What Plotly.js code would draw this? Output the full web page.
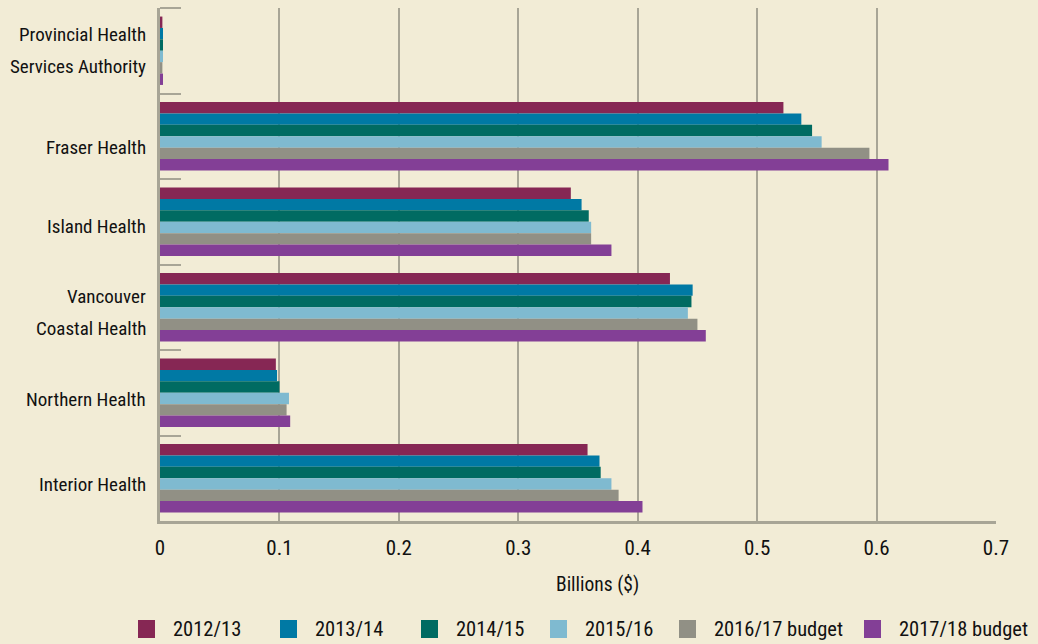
<!DOCTYPE html>
<html>
<head>
<meta charset="utf-8">
<script src="https://cdn.plot.ly/plotly-3.0.1.min.js"></script>
<style>
html,body{margin:0;padding:0;background:#F2ECD6;}
#chart{width:1038px;height:644px;}
</style>
</head>
<body>
<div id="chart"></div>
<script>
const categories = [
  "Provincial Health Services Authority",
  "Fraser Health",
  "Island Health",
  "Vancouver Coastal Health",
  "Northern Health",
  "Interior Health"
];
const categoryLines = [
  ["Provincial Health", "Services Authority"],
  ["Fraser Health"],
  ["Island Health"],
  ["Vancouver", "Coastal Health"],
  ["Northern Health"],
  ["Interior Health"]
];
const seriesNames = ["2012/13", "2013/14", "2014/15", "2015/16", "2016/17 budget", "2017/18 budget"];
const v2012 = [0.002, 0.522, 0.344, 0.427, 0.097, 0.358];
const v2013 = [0.0025, 0.537, 0.353, 0.446, 0.098, 0.368];
const v2014 = [0.0025, 0.546, 0.359, 0.445, 0.100, 0.369];
const v2015 = [0.0025, 0.554, 0.361, 0.442, 0.108, 0.378];
const v2016 = [0.002, 0.594, 0.361, 0.450, 0.106, 0.384];
const v2017 = [0.0025, 0.610, 0.378, 0.457, 0.109, 0.404];
const xTitle = "Billions ($)";

const colors = ["#862754", "#0079A4", "#006B62", "#7FBAD0", "#919085", "#833F96"];
const values = [v2012, v2013, v2014, v2015, v2016, v2017];

const FONT = "'Liberation Sans Narrow', 'Roboto Condensed', 'Arial Narrow', 'DejaVu Sans Condensed', sans-serif";
const TXT = "#111111";
const GRID = "#A8A596";

// plot area geometry (pixels)
const PL = 160, PR = 996, PT = 8, PB = 521;
const px = v => (v - PL) / (PR - PL);
const py = v => (PB - v) / (PB - PT);

const barTraces = seriesNames.map((name, i) => ({
  type: "bar",
  orientation: "h",
  name: name,
  x: values[i],
  y: categories,
  marker: {color: colors[i], line: {width: 0}},
  showlegend: false,
  hoverinfo: "x+name"
}));

const labelShift = [0, -11, -5, -5, -7, -6];
const annotations = [];
categories.forEach((c, i) => {
  const lines = categoryLines[i];
  lines.forEach((ln, j) => {
    const off = lines.length === 1 ? 0 : (j === 0 ? 16 : -16);
    annotations.push({
      xref: "paper", yref: "y",
      x: 0, y: c,
      xanchor: "right", yanchor: "middle",
      xshift: -12,
      yshift: off + labelShift[i],
      text: ln,
      showarrow: false,
      font: {family: FONT, size: 19, color: TXT}
    });
  });
});
annotations.push({
  xref: "paper", yref: "paper",
  x: px(597), y: py(584),
  xanchor: "center", yanchor: "middle",
  text: xTitle, showarrow: false,
  font: {family: FONT, size: 19.5, color: TXT}
});

// legend drawn by hand (single row, like the reference)
const legendLeft = [138, 280, 421, 550, 679, 864];
const shapes = [{
  type: "line", xref: "paper", yref: "paper",
  x0: 0, x1: px(181), y0: 1, y1: 1,
  line: {color: GRID, width: 2}
}];
seriesNames.forEach((name, i) => {
  shapes.push({
    type: "rect", xref: "paper", yref: "paper",
    x0: px(legendLeft[i]), x1: px(legendLeft[i] + 17),
    y0: py(638), y1: py(620),
    fillcolor: colors[i], line: {width: 0}
  });
  annotations.push({
    xref: "paper", yref: "paper",
    x: px(legendLeft[i] + 33), y: py(629),
    xanchor: "left", yanchor: "middle",
    text: name, showarrow: false,
    font: {family: FONT, size: 20.5, color: TXT}
  });
});

const layout = {
  width: 1038,
  height: 644,
  paper_bgcolor: "#F2ECD6",
  plot_bgcolor: "#F2ECD6",
  margin: {l: PL, r: 1038 - PR, t: PT, b: 644 - PB, autoexpand: false},
  barmode: "group",
  bargap: 0.2,
  bargroupgap: 0,
  font: {family: FONT, size: 19, color: TXT},
  showlegend: false,
  xaxis: {
    range: [0, 0.7],
    dtick: 0.1,
    tick0: 0,
    showgrid: true,
    gridcolor: GRID,
    gridwidth: 2,
    zeroline: false,
    showline: true,
    linecolor: GRID,
    linewidth: 3,
    ticks: "",
    ticklabelstandoff: 6,
    tickfont: {family: FONT, size: 21, color: TXT}
  },
  yaxis: {
    type: "category",
    categoryarray: categories,
    autorange: "reversed",
    showline: true,
    linecolor: GRID,
    linewidth: 3,
    showgrid: false,
    zeroline: false,
    ticks: "inside",
    tickson: "boundaries",
    ticklen: 21,
    tickwidth: 2,
    tickcolor: GRID,
    showticklabels: false
  },
  shapes: shapes,
  annotations: annotations
};

Plotly.newPlot("chart", barTraces, layout, {displayModeBar: false, staticPlot: true});
</script>
</body>
</html>
